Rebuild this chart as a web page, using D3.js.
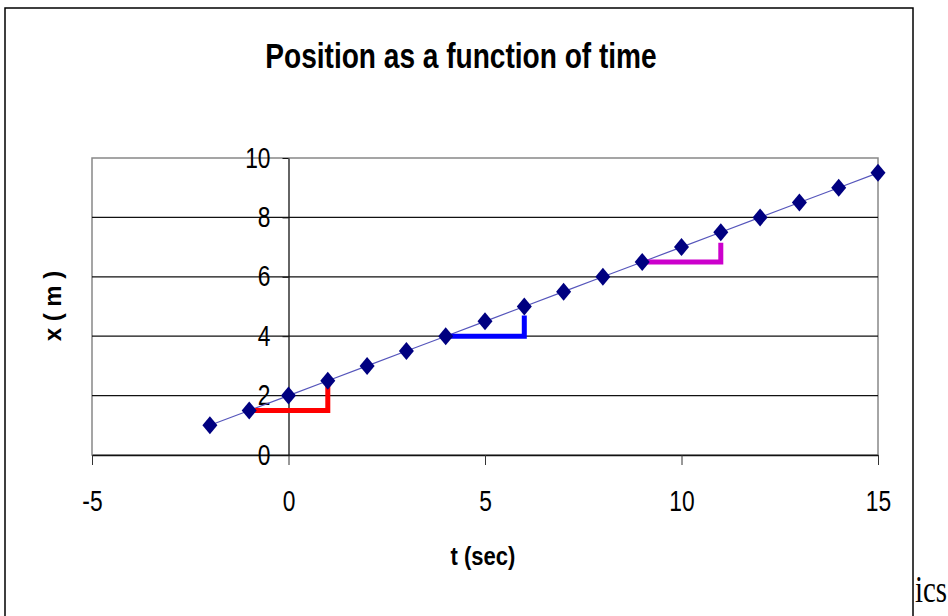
<!DOCTYPE html>
<html>
<head>
<meta charset="utf-8">
<script src="https://cdn.jsdelivr.net/npm/d3@7"></script>
<style>
  body { margin: 0; background: white; }
  text { font-family: "Liberation Sans", Arial, sans-serif; }
</style>
</head>
<body>
<div id="chart"></div>
<script>
/* CONSTANTS AND GLOBALS */
const width = 948;
const height = 616;

/* DATA */
const times = [-2, -1, 0, 1, 2, 3, 4, 5, 6, 7, 8, 9, 10, 11, 12, 13, 14, 15];
const positions = [1, 1.5, 2, 2.5, 3, 3.5, 4, 4.5, 5, 5.5, 6, 6.5, 7, 7.5, 8, 8.5, 9, 9.5];
const xTicks = [-5, 0, 5, 10, 15];
const yTicks = [0, 2, 4, 6, 8, 10];

// rise-over-run markers: run from tStart to tEnd at xBase, then up to xTop
const stepStart = [-1, 4, 9];
const stepEnd = [1, 6, 11];
const stepBase = [1.5, 4, 6.5];
const stepTop = [2.55, 4.7, 7.15];
const stepColors = ["#ff0000", "#0000ff", "#cc00cc"];

const data = times.map((t, i) => ({ t: t, x: positions[i] }));

/* SCALES */
const xScale = d3.scaleLinear().domain([-5, 15]).range([92, 878]);
const yScale = d3.scaleLinear().domain([0, 10]).range([455, 158]);

const svg = d3.select("#chart")
  .append("svg")
  .attr("width", width)
  .attr("height", height)
  .style("background-color", "white");

// outer chart frame
svg.append("rect")
  .attr("x", 5).attr("y", 8)
  .attr("width", 908).attr("height", 700)
  .attr("fill", "white")
  .attr("stroke", "black")
  .attr("stroke-width", 1.5);

// text that runs off behind the chart box
svg.append("text")
  .attr("transform", "translate(915,602) scale(0.85,1.1)")
  .style("font-family", "'Liberation Serif', 'Times New Roman', serif")
  .style("font-size", "34px")
  .text("ics");

// title
svg.append("text")
  .attr("transform", "translate(461,68) scale(0.78,1)")
  .attr("text-anchor", "middle")
  .style("font-size", "36px")
  .style("font-weight", "bold")
  .text("Position as a function of time");

// plot area border
svg.append("rect")
  .attr("x", xScale(-5)).attr("y", yScale(10))
  .attr("width", xScale(15) - xScale(-5))
  .attr("height", yScale(0) - yScale(10))
  .attr("fill", "none")
  .attr("stroke", "#888")
  .attr("stroke-width", 1.5);

// gridlines
svg.selectAll(".grid")
  .data(yTicks.filter(v => v > 0 && v < 10))
  .join("line")
  .attr("class", "grid")
  .attr("x1", xScale(-5)).attr("x2", xScale(15))
  .attr("y1", d => yScale(d)).attr("y2", d => yScale(d))
  .attr("stroke", "#111")
  .attr("stroke-width", 1.2);

/* AXES */
const xAxis = svg.append("g")
  .attr("transform", `translate(0,${yScale(0)})`)
  .call(d3.axisBottom(xScale).tickValues(xTicks).tickFormat(d => String(d))
    .tickSize(10).tickSizeOuter(0));
xAxis.select(".domain").attr("stroke", "#111").attr("stroke-width", 1.3);
xAxis.selectAll(".tick line").attr("stroke", "#333");
xAxis.selectAll(".tick text")
  .attr("x", null).attr("y", null).attr("dy", null)
  .attr("transform", "translate(0,56) scale(0.76,1)")
  .attr("fill", "black")
  .style("font-size", "30px")
  .style("font-family", "'Liberation Sans', Arial, sans-serif");

const yAxis = svg.append("g")
  .attr("transform", `translate(${xScale(0)},0)`)
  .call(d3.axisLeft(yScale).tickValues(yTicks).tickFormat(d => String(d))
    .tickSize(6).tickSizeOuter(0));
yAxis.select(".domain").attr("stroke", "#111").attr("stroke-width", 1.3);
yAxis.selectAll(".tick line").attr("stroke", "#111");
yAxis.selectAll(".tick text")
  .attr("x", null).attr("dy", null)
  .attr("transform", "translate(-18,9) scale(0.76,1)")
  .attr("fill", "black")
  .style("font-size", "30px")
  .style("font-family", "'Liberation Sans', Arial, sans-serif");

// axis titles
svg.append("text")
  .attr("transform", "translate(483,565) scale(0.88,1)")
  .attr("text-anchor", "middle")
  .style("font-size", "25px")
  .style("font-weight", "bold")
  .text("t (sec)");

svg.append("text")
  .attr("transform", "translate(61,306) rotate(-90)")
  .attr("text-anchor", "middle")
  .style("font-size", "24px")
  .style("font-weight", "bold")
  .text("x ( m )");

/* SERIES */
const line = d3.line()
  .x(d => xScale(d.t))
  .y(d => yScale(d.x));

svg.append("path")
  .datum(data)
  .attr("d", line)
  .attr("fill", "none")
  .attr("stroke", "#5555bb")
  .attr("stroke-width", 1.2);

// step markers
stepStart.forEach((s, i) => {
  svg.append("path")
    .attr("d", d3.line()([
      [xScale(s), yScale(stepBase[i])],
      [xScale(stepEnd[i]), yScale(stepBase[i])],
      [xScale(stepEnd[i]), yScale(stepTop[i])]
    ]))
    .attr("fill", "none")
    .attr("stroke", stepColors[i])
    .attr("stroke-width", 5)
    .attr("stroke-linejoin", "miter");
});

// diamond markers
const diamond = {
  draw(context, size) {
    const w = Math.sqrt(size) / 2;
    const h = w * 1.2;
    context.moveTo(0, -h);
    context.lineTo(w, 0);
    context.lineTo(0, h);
    context.lineTo(-w, 0);
    context.closePath();
  }
};

svg.selectAll(".pt")
  .data(data)
  .join("path")
  .attr("class", "pt")
  .attr("d", d3.symbol().type(diamond).size(225))
  .attr("transform", d => `translate(${xScale(d.t)},${yScale(d.x)})`)
  .attr("fill", "#000080");
</script>
</body>
</html>
